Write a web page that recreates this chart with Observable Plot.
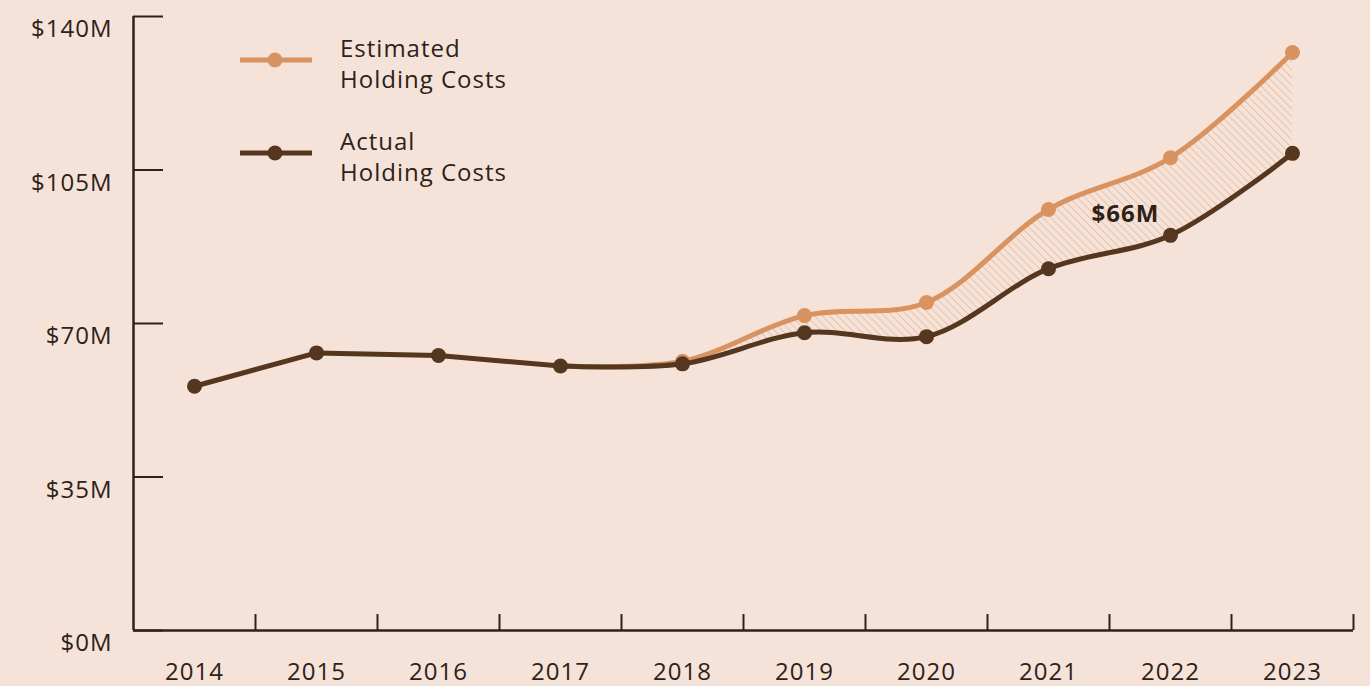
<!DOCTYPE html>
<html><head><meta charset="utf-8">
<script src="https://cdn.jsdelivr.net/npm/d3@7"></script>
<script src="https://cdn.jsdelivr.net/npm/@observablehq/plot@0.6"></script>
<style>
html,body{margin:0;padding:0;background:#f5e3d9;}
#wrap{position:relative;width:1370px;height:686px;overflow:hidden;}
</style></head>
<body><div id="wrap"></div>
<script>
const years = [2014, 2015, 2016, 2017, 2018, 2019, 2020, 2021, 2022, 2023];
const actualCosts = [55.7, 63.3, 62.7, 60.3, 60.8, 67.9, 67.0, 82.5, 90.1, 108.8];
const estimatedYears = [2017, 2018, 2019, 2020, 2021, 2022, 2023];
const estimatedCosts = [60.3, 61.4, 71.8, 74.8, 96.0, 107.8, 131.8];
const yTicks = [0, 35, 70, 105, 140];
const seriesNames = ["Estimated Holding Costs", "Actual Holding Costs"];
const gapLabel = [{year: 2021.63, value: 95, text: "$66M"}];

const ORANGE = "#d89360", DARK = "#55361f", INK = "#2e2118", HATCH = "#e4ad88";
const FONT = "'Open Sans', sans-serif";
const LS = "1px";

const actualData = years.map((y, i) => ({year: y, value: actualCosts[i]}));
const estData = estimatedYears.map((y, i) => ({year: y, value: estimatedCosts[i]}));
const gapData = estimatedYears.map((y, i) => ({year: y, est: estimatedCosts[i], act: actualCosts[years.indexOf(y)]}));
const bounds = years.map(y => y + 0.5);
const splitYear = estimatedYears[0];

const svg = Plot.plot({
  width: 1370, height: 686,
  marginLeft: 133, marginRight: 17, marginTop: 16, marginBottom: 56,
  style: {background: "#f5e3d9", fontFamily: FONT, fontSize: "24px", color: INK, letterSpacing: LS},
  x: {domain: [years[0] - 0.5, years[years.length - 1] + 0.5], label: null},
  y: {domain: [0, 140], label: null},
  marks: [
    Plot.areaY(gapData, {x: "year", y1: "act", y2: "est", curve: "catmull-rom", fill: "url(#hatch)"}),
    Plot.lineY(estData, {x: "year", y: "value", curve: "catmull-rom", stroke: ORANGE, strokeWidth: 5}),
    Plot.dot(estData.filter(d => d.year > splitYear), {x: "year", y: "value", r: 7.5, fill: ORANGE}),
    Plot.lineY(actualData.filter(d => d.year <= splitYear), {x: "year", y: "value", curve: "linear", stroke: DARK, strokeWidth: 5}),
    Plot.lineY(actualData.filter(d => d.year >= splitYear), {x: "year", y: "value", curve: "catmull-rom", stroke: DARK, strokeWidth: 5}),
    Plot.dot(actualData, {x: "year", y: "value", r: 7.5, fill: DARK}),
    Plot.ruleY([0], {stroke: INK, strokeWidth: 2.5}),
    Plot.ruleX([years[0] - 0.5], {stroke: INK, strokeWidth: 2.5}),
    Plot.axisY(yTicks, {tickSize: 0, tickPadding: 21, dy: 13, tickFormat: d => `$${d}M`, fill: INK, fontSize: 24, label: null}),
    Plot.axisY(yTicks, {tickSize: -30, tickFormat: () => "", stroke: INK, strokeWidth: 2, label: null}),
    Plot.axisX(years, {tickSize: 0, tickPadding: 32, tickFormat: d => String(d), fill: INK, fontSize: 24, label: null}),
    Plot.axisX(bounds, {tickSize: -16, tickFormat: () => "", stroke: INK, strokeWidth: 2, label: null}),
    Plot.text(gapLabel, {x: "year", y: "value", text: "text", fontWeight: "bold", fontSize: 24, fill: INK})
  ]
});

const s = d3.select(svg);
const defs = s.insert("defs", ":first-child");
const pat = defs.append("pattern").attr("id", "hatch").attr("patternUnits", "userSpaceOnUse")
  .attr("width", 5.5).attr("height", 5.5).attr("patternTransform", "rotate(-45)");
pat.append("line").attr("x1", 0).attr("y1", 0).attr("x2", 0).attr("y2", 5.5)
  .attr("stroke", HATCH).attr("stroke-width", 1.2);

// legend
const legend = s.append("g").attr("font-family", FONT).attr("font-size", 24)
  .attr("fill", INK).attr("text-anchor", "start").style("letter-spacing", LS);
const legendItems = [
  {color: ORANGE, lines: ["Estimated", "Holding Costs"], cy: 60},
  {color: DARK, lines: ["Actual", "Holding Costs"], cy: 153}
];
legendItems.forEach(it => {
  legend.append("line").attr("x1", 240).attr("x2", 312).attr("y1", it.cy).attr("y2", it.cy)
    .attr("stroke", it.color).attr("stroke-width", 5);
  legend.append("circle").attr("cx", 275).attr("cy", it.cy).attr("r", 7.5).attr("fill", it.color);
  const t = legend.append("text").attr("x", 340).attr("y", it.cy - 3);
  t.append("tspan").attr("x", 340).text(it.lines[0]);
  t.append("tspan").attr("x", 340).attr("dy", 31).text(it.lines[1]);
});

document.getElementById("wrap").appendChild(svg);
</script>
</body></html>
